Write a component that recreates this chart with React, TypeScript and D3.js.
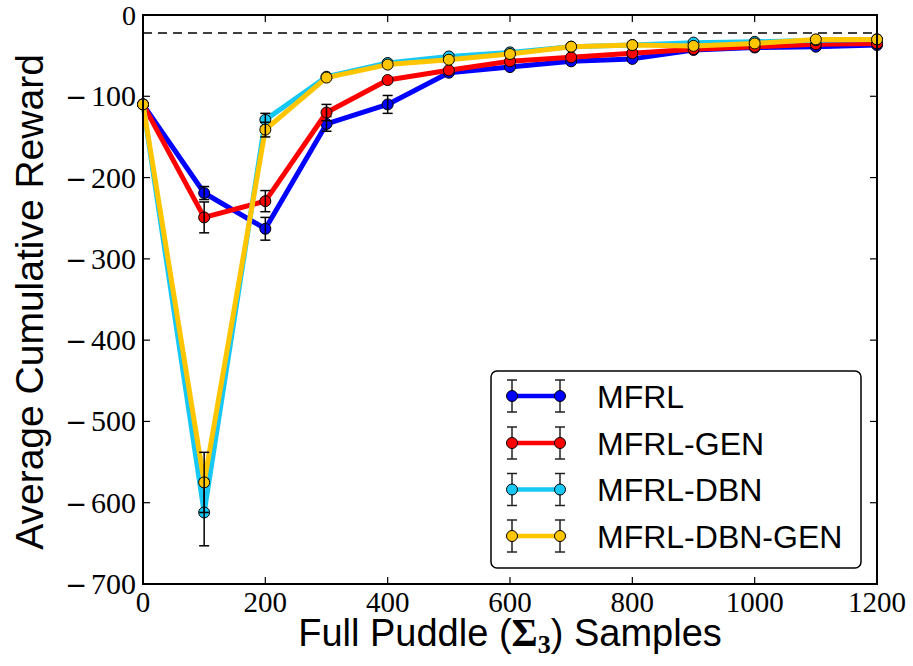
import React from "react";
import * as d3 from "d3";

const samples = [0, 100, 200, 300, 400, 500, 600, 700, 800, 900, 1000, 1100, 1200];
const mfrl = [-110, -219, -263, -134, -110, -71, -64, -57, -54, -43, -40, -39, -37];
const mfrlErr = [0, 8, 14, 9, 11, 0, 0, 0, 0, 0, 0, 0, 0];
const mfrlGen = [-110, -249, -229, -120, -80, -68, -57, -52, -47, -42, -39, -36, -35];
const mfrlGenErr = [0, 19, 13, 10, 0, 0, 0, 0, 0, 0, 0, 0, 0];
const mfrlDbn = [-110, -612, -129, -76, -59, -51, -46, -39, -37, -34, -33, -31, -30];
const mfrlDbnErr = [0, 41, 8, 0, 0, 0, 0, 0, 0, 0, 0, 0, 0];
const mfrlDbnGen = [-110, -575, -141, -77, -61, -55, -48, -39, -37, -38, -35, -30, -30];
const mfrlDbnGenErr = [0, 37, 9, 0, 0, 0, 0, 0, 0, 0, 0, 0, 0];
const seriesNames = ["MFRL", "MFRL-GEN", "MFRL-DBN", "MFRL-DBN-GEN"];
const seriesColors = ["#0000ff", "#ff0000", "#17c8f5", "#ffc600"];
const xTicks = [0, 200, 400, 600, 800, 1000, 1200];
const yTicks = [0, -100, -200, -300, -400, -500, -600, -700];
const optimum = -22;

const W = 913, H = 666;
const L = 143, R = 877, T = 15, B = 584;

export default function App() {
  const x = d3.scaleLinear().domain([0, 1200]).range([L, R]);
  const y = d3.scaleLinear().domain([0, -700]).range([T, B]);
  const series = [
    { vals: mfrl, err: mfrlErr },
    { vals: mfrlGen, err: mfrlGenErr },
    { vals: mfrlDbn, err: mfrlDbnErr },
    { vals: mfrlDbnGen, err: mfrlDbnGenErr },
  ];
  const line = d3
    .line<number>()
    .x((_, i) => x(samples[i]))
    .y((v) => y(v));
  const tickLen = 7;
  const serif = "'Liberation Serif', 'Times New Roman', serif";
  const sans = "'Liberation Sans', Arial, Helvetica, sans-serif";
  const legX0 = 512, legX1 = 560;
  const legRows = [396, 443, 489.5, 536];

  return (
    <svg width={W} height={H} style={{ position: "absolute", left: 0, top: 0, background: "#fff" }}>
      <rect x={0} y={0} width={W} height={H} fill="#fff" />
      <line x1={L} x2={R} y1={y(optimum)} y2={y(optimum)} stroke="#000" strokeWidth={1.5} strokeDasharray="9,6" />
      {series.map((s, si) => (
        <g key={si}>
          <path d={line(s.vals) || ""} fill="none" stroke={seriesColors[si]} strokeWidth={5} strokeLinejoin="round" />
          {s.vals.map((v, i) => (
            <circle key={i} cx={x(samples[i])} cy={y(v)} r={5.5} fill={seriesColors[si]} stroke="#000" strokeWidth={1} />
          ))}
          {s.vals.map((v, i) => {
            if (!s.err[i]) return null;
            const cx = x(samples[i]);
            const y1 = y(v - s.err[i]);
            const y0 = y(v + s.err[i]);
            return (
              <g key={"e" + i} stroke="#000" strokeWidth={1.5}>
                <line x1={cx} x2={cx} y1={y0} y2={y1} />
                <line x1={cx - 5} x2={cx + 5} y1={y0} y2={y0} />
                <line x1={cx - 5} x2={cx + 5} y1={y1} y2={y1} />
              </g>
            );
          })}
        </g>
      ))}
      <rect x={L} y={T} width={R - L} height={B - T} fill="none" stroke="#000" strokeWidth={2} />
      {xTicks.map((t) => (
        <g key={"x" + t} stroke="#000" strokeWidth={1.2}>
          <line x1={x(t)} x2={x(t)} y1={B} y2={B - tickLen} />
          <line x1={x(t)} x2={x(t)} y1={T} y2={T + tickLen} />
        </g>
      ))}
      {yTicks.map((t) => (
        <g key={"y" + t} stroke="#000" strokeWidth={1.2}>
          <line x1={L} x2={L + tickLen} y1={y(t)} y2={y(t)} />
          <line x1={R} x2={R - tickLen} y1={y(t)} y2={y(t)} />
        </g>
      ))}
      {xTicks.map((t) => (
        <text key={"xl" + t} x={x(t)} y={612} textAnchor="middle" fontFamily={serif} fontSize={29} fill="#000">
          {String(t)}
        </text>
      ))}
      {yTicks.map((t) => (
        <text key={"yl" + t} x={136} y={y(t) + 10} textAnchor="end" fontFamily={serif} fontSize={t === 0 ? 28 : 30} fill="#000">
          {t < 0 ? (
            <>
              <tspan fontFamily="'DejaVu Sans', sans-serif" fontSize={26}>−</tspan>
              <tspan dx={4}>{String(-t)}</tspan>
            </>
          ) : (
            String(t)
          )}
        </text>
      ))}
      <text x={(L + R) / 2} y={646} textAnchor="middle" fontFamily={sans} fontSize={38} fill="#000">
        Full Puddle (
        <tspan fontFamily={serif} fontWeight="bold" fontSize={40}>Σ</tspan>
        <tspan fontFamily={serif} fontWeight="bold" fontSize={26} dy={7}>3</tspan>
        <tspan dy={-7}>) Samples</tspan>
      </text>
      <text
        transform={`translate(43, 302) rotate(-90)`}
        textAnchor="middle"
        fontFamily={sans}
        fontSize={39}
        fill="#000"
      >
        Average Cumulative Reward
      </text>
      <rect x={491} y={371} width={370} height={197} rx={6} ry={6} fill="#fff" stroke="#000" strokeWidth={1.5} />
      {seriesNames.map((n, i) => {
        const cy = legRows[i];
        return (
          <g key={n}>
            <line x1={legX0} x2={legX1} y1={cy} y2={cy} stroke={seriesColors[i]} strokeWidth={4.5} />
            {[legX0, legX1].map((lx) => (
              <g key={lx}>
                <g stroke="#222" strokeWidth={1.5}>
                  <line x1={lx} x2={lx} y1={cy - 16} y2={cy + 16} />
                  <line x1={lx - 5} x2={lx + 5} y1={cy - 16} y2={cy - 16} />
                  <line x1={lx - 5} x2={lx + 5} y1={cy + 16} y2={cy + 16} />
                </g>
                <circle cx={lx} cy={cy} r={5.5} fill={seriesColors[i]} stroke="#000" strokeWidth={1} />
              </g>
            ))}
            <text x={597} y={cy + 11.5} fontFamily={sans} fontSize={32} fill="#000">
              {n}
            </text>
          </g>
        );
      })}
    </svg>
  );
}
